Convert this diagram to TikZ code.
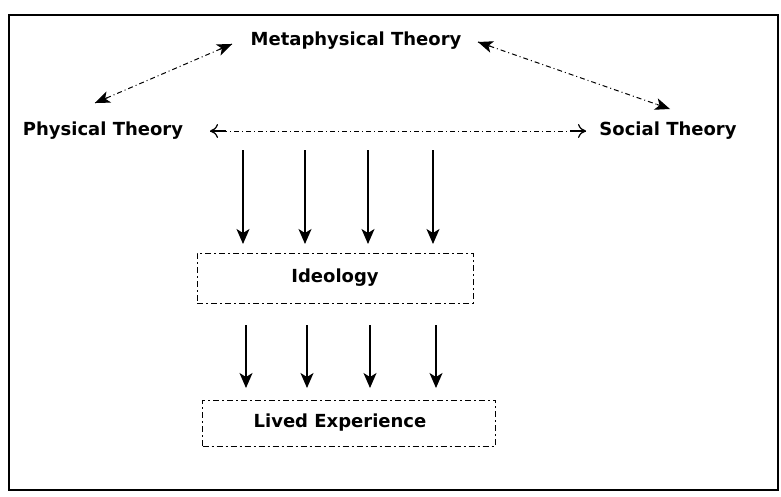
\documentclass[tikz,border=0pt]{standalone}
\usepackage{fontspec}
\setmainfont{DejaVu Sans}
\usetikzlibrary{arrows.meta,calc}
\begin{document}
\begin{tikzpicture}[x=1pt,y=-1pt,
  lbl/.style={font=\bfseries\fontsize{18}{21}\selectfont, inner sep=0pt},
  dbox/.style={draw, dash pattern=on 6pt off 3pt on 2pt off 3pt, line width=0.9pt},
  dlink/.style={dash pattern=on 5pt off 3pt on 1pt off 3pt, line width=1pt},
  stip/.style={solid, line width=1pt, -{Stealth[length=15pt,width=12pt,inset=4pt]}},
  htip/.style={solid, line width=1.2pt, -{To[length=8pt,width=14pt]}},
  down/.style={line width=1.3pt, -{Stealth[length=15pt,width=13pt,inset=4pt]}}]
\useasboundingbox (0,0) rectangle (781,496);
\draw[line width=2pt] (9,15) rectangle (778,490);
\node[lbl] (meta) at (356,41) {Metaphysical Theory};
\node[lbl] (phys) at (103,131) {Physical Theory};
\node[lbl] (soc) at (668,131) {Social Theory};
\node[dbox, minimum width=276pt, minimum height=50pt] (ideo) at (335,278) {};
\node[lbl] (ideot) at (ideo.center) {Ideology};
\node[dbox, minimum width=293pt, minimum height=46pt] (lived) at (349,423) {};
\node[lbl] (livedt) at ([xshift=-9pt]lived.center) {Lived Experience};
\coordinate (mw) at (232,44);
\coordinate (pa) at (95,103);
\coordinate (me) at (478,42);
\coordinate (sa) at (670,109);
\coordinate (pe) at (210,131);
\coordinate (sw) at (586,131);
\foreach \a/\b in {mw/pa,me/sa} {
  \draw[dlink] (\a) -- (\b);
  \draw[stip] ($(\b)!14pt!(\a)$) -- (\b);
  \draw[stip] ($(\a)!14pt!(\b)$) -- (\a);
}
\draw[dlink] (pe) -- (sw);
\draw[htip] ($(sw)!16pt!(pe)$) -- (sw);
\draw[htip] ($(pe)!16pt!(sw)$) -- (pe);
\foreach \x/\y in {243/1,305/2,368/3,433/4} {
  \coordinate (t\y) at (\x,150);
  \coordinate (b\y) at (\x,244);
  \draw[down] (t\y) -- (b\y);
}
\foreach \x/\y in {246/1,307/2,370/3,436/4} {
  \coordinate (u\y) at (\x,325);
  \coordinate (v\y) at (\x,388);
  \draw[down] (u\y) -- (v\y);
}
\end{tikzpicture}
\end{document}
